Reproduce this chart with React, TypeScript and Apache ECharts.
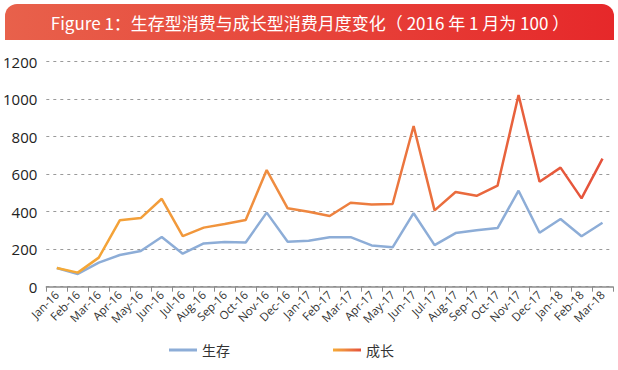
import React, { useEffect, useRef } from "react";
import * as echarts from "echarts";

const categories = [
  "Jan-16", "Feb-16", "Mar-16", "Apr-16", "May-16", "Jun-16", "Jul-16", "Aug-16", "Sep-16",
  "Oct-16", "Nov-16", "Dec-16", "Jan-17", "Feb-17", "Mar-17", "Apr-17", "May-17", "Jun-17",
  "Jul-17", "Aug-17", "Sep-17", "Oct-17", "Nov-17", "Dec-17", "Jan-18", "Feb-18", "Mar-18",
];

const survival = [
  100, 68, 128, 169, 190, 265, 176, 231, 238, 236, 395, 240, 245, 264, 264, 220, 210, 392,
  222, 286, 301, 313, 512, 288, 361, 269, 341,
];

const growth = [
  100, 75, 155, 354, 366, 469, 270, 315, 334, 356, 622, 418, 400, 377, 448, 439, 441, 857,
  407, 505, 485, 539, 1022, 560, 635, 471, 683,
];

const yTicks = [0, 200, 400, 600, 800, 1000, 1200];

const titleText = "Figure 1：生存型消费与成长型消费月度变化（ 2016 年 1 月为 100 ）";

export default function App() {
  const ref = useRef<HTMLDivElement>(null);
  useEffect(() => {
    if (!ref.current) return;
    const chart = echarts.init(ref.current, undefined, { renderer: "svg" });
    const orangeGrad = new echarts.graphic.LinearGradient(0, 0, 1, 0, [
      { offset: 0, color: "#F5AA35" },
      { offset: 0.4, color: "#EF8C40" },
      { offset: 1, color: "#E5513B" },
    ]);
    chart.setOption({
      animation: false,
      backgroundColor: "#ffffff",
      graphic: [
        {
          type: "rect",
          shape: { x: 5, y: 4, width: 609, height: 36, r: [12, 12, 0, 0] },
          style: {
            fill: new echarts.graphic.LinearGradient(0, 0, 1, 0, [
              { offset: 0, color: "#E8614B" },
              { offset: 1, color: "#E6282A" },
            ]),
          },
        },
        {
          type: "text",
          x: 310,
          y: 22,
          style: {
            text: titleText,
            fill: "#ffffff",
            font: '17px "Noto Sans CJK SC", "Noto Sans", sans-serif',
            textAlign: "center",
            textVerticalAlign: "middle",
          },
        },
      ],
      grid: { left: 44, right: 5, top: 61.7, bottom: 83.3, containLabel: false },
      legend: {
        bottom: 8,
        left: 164,
        itemGap: 103,
        itemWidth: 28,
        itemHeight: 3,
        icon: "rect",
        textStyle: { fontSize: 14, color: "#333", fontFamily: '"Noto Sans CJK SC", sans-serif' },
        data: [
          { name: "生存", itemStyle: { color: "#8DADD7" } },
          { name: "成长", itemStyle: { color: orangeGrad } },
        ],
      },
      xAxis: {
        type: "category",
        data: categories,
        boundaryGap: true,
        axisLine: { lineStyle: { color: "#8a8a8a", width: 1.5 } },
        axisTick: { show: true, length: 5, lineStyle: { color: "#8a8a8a" }, alignWithLabel: false },
        axisLabel: {
          rotate: 45,
          interval: 0,
          fontSize: 11.5,
          color: "#333",
          margin: 6,
          fontFamily: '"Open Sans", "Noto Sans", sans-serif',
        },
        splitLine: { show: false },
      },
      yAxis: {
        type: "value",
        min: 0,
        max: 1200,
        interval: 200,
        axisLine: { show: false },
        axisTick: { show: false },
        axisLabel: {
          fontSize: 15,
          color: "#222",
          margin: 9,
          fontFamily: '"Open Sans", "Noto Sans", sans-serif',
          formatter: (v: number) => (yTicks.includes(v) ? String(v) : ""),
        },
        splitLine: { show: true, lineStyle: { color: "#9a9a9a", type: [3, 4], width: 1 } },
      },
      series: [
        {
          name: "生存",
          type: "line",
          data: survival,
          symbol: "none",
          lineStyle: { color: "#8DADD7", width: 2.5 },
          itemStyle: { color: "#8DADD7" },
          z: 2,
        },
        {
          name: "成长",
          type: "line",
          data: growth,
          symbol: "none",
          lineStyle: { color: orangeGrad, width: 2.5 },
          itemStyle: { color: orangeGrad },
          z: 3,
        },
      ],
    });
    return () => chart.dispose();
  }, []);
  return <div ref={ref} style={{ width: 618, height: 370, position: "absolute", left: 0, top: 0 }} />;
}
